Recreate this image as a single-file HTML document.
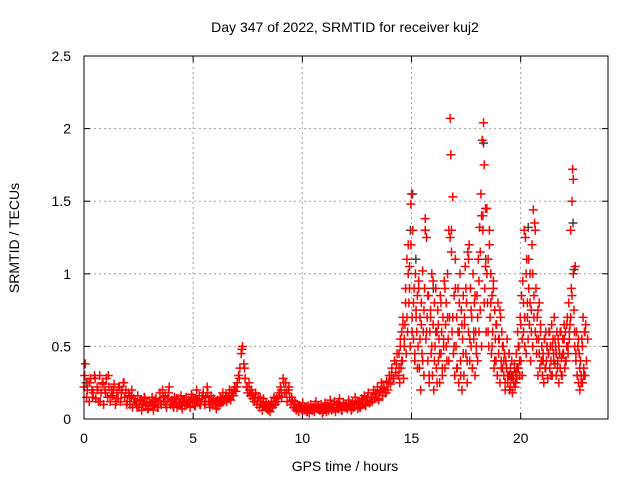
<!DOCTYPE html>
<html><head><meta charset="utf-8"><style>
body{margin:0;background:#fff;}
svg{display:block;font-family:"Liberation Sans",sans-serif;}
</style></head><body>
<svg id="chart" width="640" height="480" viewBox="0 0 640 480">
<rect width="640" height="480" fill="#fff"/>
<text x="345" y="32" text-anchor="middle" font-size="14">Day 347 of 2022, SRMTID for receiver kuj2</text>
<text x="345" y="471" text-anchor="middle" font-size="14">GPS time / hours</text>
<text transform="translate(19,238) rotate(-90)" text-anchor="middle" font-size="14">SRMTID / TECUs</text>
<g id="grid"></g>
<g id="ticks"></g>
<g id="gray"></g>
<g id="red"></g>
<rect x="84" y="56" width="524" height="363" fill="none" stroke="#000" stroke-width="1"/>
</svg>
<script>
const xTicks=[0,5,10,15,20];
const yTicks=[0,0.5,1,1.5,2,2.5];
const yTickLabels=["0","0.5","1","1.5","2","2.5"];
const quietStart=0, quietStep=0.06;
const quietVals=[.22,.38,.15,.25,.12,.28,.2,.18,.3,.14,
.22,.12,.3,.18,.25,.1,.2,.28,.15,.22,
.12,.2,.16,.24,.1,.18,.14,.22,.12,.2,
.25,.15,.2,.12,.18,.1,.15,.08,.14,.12,
.1,.16,.08,.13,.06,.12,.15,.09,.11,.07,
.12,.09,.15,.06,.1,.14,.08,.12,.18,.1,
.2,.12,.16,.08,.14,.22,.1,.13,.09,.15,
.11,.08,.14,.1,.16,.07,.12,.09,.15,.11,
.13,.08,.17,.11,.14,.09,.2,.12,.16,.1,
.14,.18,.1,.15,.22,.12,.08,.16,.11,.14,
.1,.07,.13,.1,.15,.11,.18,.13,.16,.12,
.15,.2,.13,.18,.16,.22,.19,.25,.3,.35,
.45,.5,.38,.28,.22,.18,.25,.16,.2,.14,
.12,.18,.1,.15,.08,.12,.06,.14,.09,.11,
.07,.1,.05,.12,.08,.15,.1,.14,.12,.18,
.22,.15,.28,.18,.25,.12,.2,.15,.1,.13,
.08,.12,.06,.1,.05,.09,.07,.11,.06,.08,
.05,.09,.04,.1,.06,.08,.05,.12,.07,.09,
.06,.1,.04,.08,.11,.05,.09,.07,.13,.06,
.08,.12,.05,.1,.07,.14,.09,.06,.11,.08,
.1,.07,.13,.09,.06,.12,.08,.15,.1,.07,
.11,.08,.14,.1,.16,.09,.13,.18,.11,.15,
.12,.2,.14,.17,.22,.13,.19,.25,.16,.21,
.18,.26,.2,.3,.24,.35,.28,.4,.32,.45,.3];
const quiet2Start=0.03, quiet2Step=0.12;
const quietVals2=[.3,.2,.25,.15,.28,.2,.12,.24,.18,.3,
.15,.2,.12,.22,.18,.25,.1,.16,.2,.12,
.08,.12,.1,.14,.07,.11,.09,.13,.08,.12,
.15,.1,.18,.12,.08,.14,.11,.09,.13,.1,
.12,.15,.09,.13,.1,.16,.12,.18,.1,.13,
.12,.09,.14,.12,.16,.14,.18,.2,.22,.28,
.48,.35,.22,.2,.17,.14,.12,.15,.1,.08,
.06,.09,.1,.12,.16,.2,.25,.18,.22,.15,
.1,.07,.09,.06,.08,.05,.07,.06,.1,.08,
.07,.05,.09,.06,.1,.07,.08,.11,.06,.09,
.08,.11,.07,.1,.12,.08,.13,.1,.15,.12,
.15,.18,.14,.2,.22,.18,.25,.3,.28,.38];
const activeStart=14.4, activeStep=0.03;
const activeVals=[.3,.45,.25,.55,.35,.6,.4,.7,.28,.5,
.65,.9,.45,1.1,.6,1.2,.8,1.05,.5,1.48,
1.55,.7,1.3,.55,.9,.4,1.0,.75,.6,.85,
.5,.95,.35,.7,.2,.8,.45,1.02,.6,.3,
.9,1.38,.55,1.25,.7,.4,.85,.25,.6,.75,
.45,1.0,.3,.65,.2,.8,.5,.9,.35,.6,
.75,.4,.55,.25,.85,.45,.6,.3,.7,.5,
.95,.35,.65,.8,.4,1.0,.55,1.3,.7,2.07,
1.82,1.15,.6,1.53,.45,.85,.3,1.1,.5,.7,
.35,.9,.25,.6,1.0,.4,.75,.2,.55,.85,
.3,.65,1.05,.45,.8,.25,1.15,.6,1.2,.4,
.9,.5,.7,.35,1.0,.55,.8,.3,.6,.45,
.85,.4,1.1,.6,1.32,.75,1.55,.5,1.92,1.4,
2.04,1.75,.9,1.05,.6,1.45,.8,1.1,.5,1.3,
.7,1.0,.45,.85,.6,.95,.35,.75,.55,.4,
.65,.3,.8,.45,.55,.25,.7,.4,.6,.35,
.5,.3,.45,.2,.4,.35,.55,.25,.3,.45,
.2,.35,.28,.4,.18,.3,.25,.38,.22,.32,
.45,.28,.6,.35,.5,.3,.7,.4,.85,.55,
.95,.6,1.3,.7,1.25,.45,1.1,.8,.55,.9,
.65,1.0,.4,.75,1.2,.5,1.44,.85,1.35,.6,
.9,.45,.7,.3,.55,.8,.35,.6,.4,.5,
.3,.45,.25,.55,.35,.6,.4,.5,.28,.45,
.6,.35,.5,.4,.65,.3,.55,.45,.7,.38,
.5,.3,.6,.4,.55,.25,.45,.35,.6,.42,
.3,.55,.45,.65,.35,.6,.4,.5,.7,.45,
.8,.55,.65,1.3,.9,1.5,1.72,1.65,.75,.5,
1.05,.4,.6,.3,.5,.25,.45,.2,.4,.3,
.55,.25,.7,.35,.6,.3,.65];
const active2Start=14.43, active2Step=0.06;
const activeVals2=[.35,.5,.4,.65,.55,.8,.7,1.0,.9,1.2,
.6,.8,.45,.7,.35,.9,.55,.65,.4,.75,
1.3,.6,.85,.3,.7,.5,.95,.4,.6,.25,
.65,.45,.8,.35,.55,.9,.5,.7,.4,1.25,
1.3,.7,.5,.9,.35,.6,.8,.3,.65,.45,
.7,.9,.4,1.1,.55,.75,.35,.6,.85,.5,
.7,.95,1.15,1.4,1.3,.8,1.45,1.0,.6,1.2,
.8,.5,.9,.4,.65,.3,.55,.75,.35,.5,
.4,.25,.35,.3,.45,.22,.3,.28,.35,.25,
.35,.5,.4,.65,.3,.8,.5,1.0,.7,1.1,
.8,.6,1.0,.7,1.3,.55,.75,.45,.65,.4,
.4,.55,.35,.5,.45,.6,.3,.5,.4,.55,
.45,.35,.5,.6,.3,.45,.55,.4,.65,.5,
.6,.7,.85,1.0,.6,.45,.3,.55,.35,.25,
.5,.3,.6,.4,.55];
const grayTimes=[0.1,14.95,15.05,15.2,16.0,18.3,18.4,19.5,20.35,22.4,22.45];
const grayVals=[0.25,1.3,1.55,1.1,0.9,1.9,1.1,0.3,1.32,1.35,1.03];

const X0=84,X1=608,Y0=419,Y1=56;
const xs=t=>X0+t/24*(X1-X0);
const ys=v=>Y0-v/2.5*(Y0-Y1);
const NS="http://www.w3.org/2000/svg";
function mk(tag,attrs,parent){const e=document.createElementNS(NS,tag);for(const k in attrs)e.setAttribute(k,attrs[k]);parent.appendChild(e);return e;}
const grid=document.getElementById('grid'),ticks=document.getElementById('ticks');
xTicks.forEach(t=>{const x=xs(t);
 if(t>0){const g=mk('line',{x1:x,y1:Y0,x2:x,y2:Y1,stroke:'#a0a0a0','stroke-dasharray':'2,3'},grid);
 
 }
 mk('line',{x1:x,y1:Y0,x2:x,y2:Y0-6,stroke:'#000'},ticks);
 mk('line',{x1:x,y1:Y1,x2:x,y2:Y1+6,stroke:'#000'},ticks);
 const l=mk('text',{x:x,y:443,'text-anchor':'middle','font-size':'14'},ticks);l.textContent=t;
 
 });
yTicks.forEach((v,i)=>{const y=ys(v);
 if(v>0&&v<2.5){const g=mk('line',{x1:X0,y1:y,x2:X1,y2:y,stroke:'#a0a0a0','stroke-dasharray':'2,3'},grid);
 
 }
 mk('line',{x1:X0,y1:y,x2:X0+6,y2:y,stroke:'#000'},ticks);
 mk('line',{x1:X1,y1:y,x2:X1-6,y2:y,stroke:'#000'},ticks);
 const l=mk('text',{x:71,y:y+5,'text-anchor':'end','font-size':'14'},ticks);l.textContent=yTickLabels[i];
 
 });
function cross(parent,t,v,col){const x=xs(t),y=ys(v);
 const p=mk('path',{d:`M${x-4.5} ${y}H${x+4.5}M${x} ${y-4.5}V${y+4.5}`,stroke:col,'stroke-width':'1.5',fill:'none'},parent);
 
 }
const gray=document.getElementById('gray'),red=document.getElementById('red');
grayTimes.forEach((t,i)=>cross(gray,t,grayVals[i],'#404040'));
quietVals.forEach((v,i)=>cross(red,quietStart+i*quietStep,v,'#ff0000'));
quietVals2.forEach((v,i)=>cross(red,quiet2Start+i*quiet2Step,v,'#ff0000'));
activeVals.forEach((v,i)=>cross(red,activeStart+i*activeStep,v,'#ff0000'));
activeVals2.forEach((v,i)=>cross(red,active2Start+i*active2Step,v,'#ff0000'));
</script>
</body></html>
